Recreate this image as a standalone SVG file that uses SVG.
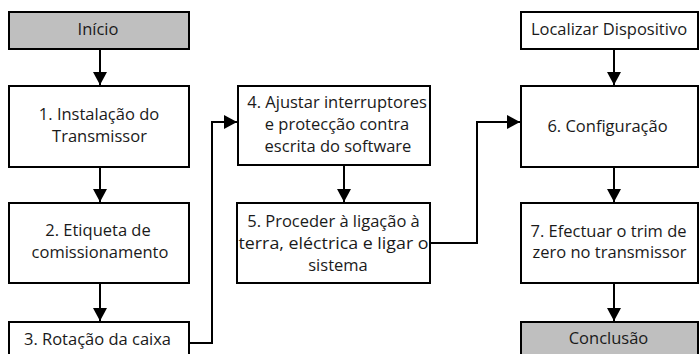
<svg xmlns="http://www.w3.org/2000/svg" width="699" height="354" viewBox="0 0 699 354">
<style>
.b{fill:#fff;stroke:#000;stroke-width:2}
.g{fill:#bfbfbf;stroke:#000;stroke-width:2}
text{font-family:"Open Sans","Liberation Sans",sans-serif;font-size:16.5px;fill:#1a1a1a;text-anchor:middle}
.c{fill:none;stroke:#000;stroke-width:2}
</style>
<defs>
<marker id="ah" viewBox="0 0 14 14" refX="13" refY="7" markerWidth="14" markerHeight="14" markerUnits="userSpaceOnUse" orient="auto">
<path d="M0,0L13,7L0,14z" fill="#000"/>
</marker>
</defs>
<g id="connectors">
<path class="c" d="M100,49V85" marker-end="url(#ah)"/>
<path class="c" d="M100,167V202" marker-end="url(#ah)"/>
<path class="c" d="M100,283V321" marker-end="url(#ah)"/>
<path class="c" d="M189,343H212V122H237" marker-end="url(#ah)"/>
<path class="c" d="M344,165V202" marker-end="url(#ah)"/>
<path class="c" d="M430,243H477V122H520" marker-end="url(#ah)"/>
<path class="c" d="M614,49V85" marker-end="url(#ah)"/>
<path class="c" d="M614,167V202" marker-end="url(#ah)"/>
<path class="c" d="M614,283V321" marker-end="url(#ah)"/>
</g>
<g id="inicio"><rect class="g" x="9" y="12" width="180" height="37"/><text x="98" y="35">Início</text></g>
<g id="n1"><rect class="b" x="9" y="86" width="180" height="81"/><text x="99" y="120">1. Instalação do</text><text x="99.5" y="142">Transmissor</text></g>
<g id="n2"><rect class="b" x="9" y="203" width="180" height="80"/><text x="98" y="236">2. Etiqueta de</text><text x="100" y="258">comissionamento</text></g>
<g id="n3"><rect class="b" x="9" y="322" width="180" height="40"/><text x="97.5" y="345">3. Rotação da caixa</text></g>
<g id="n4"><rect class="b" x="238" y="86" width="192" height="79"/><text x="337" y="108">4. Ajustar interruptores</text><text x="337" y="130">e protecção contra</text><text x="338" y="152">escrita do software</text></g>
<g id="n5"><rect class="b" x="237" y="203" width="193" height="80"/><text x="333.5" y="227">5. Proceder à ligação à</text><text x="333.5" y="249" textLength="190" lengthAdjust="spacingAndGlyphs">terra, eléctrica e ligar o</text><text x="338" y="271">sistema</text></g>
<g id="loc"><rect class="b" x="521" y="12" width="177" height="37"/><text x="609" y="35">Localizar Dispositivo</text></g>
<g id="n6"><rect class="b" x="521" y="86" width="177" height="81"/><text x="607.5" y="132">6. Configuração</text></g>
<g id="n7"><rect class="b" x="521" y="203" width="177" height="80"/><text x="608.5" y="237">7. Efectuar o trim de</text><text x="609.5" y="258">zero no transmissor</text></g>
<g id="fim"><rect class="g" x="521" y="322" width="177" height="40"/><text x="608.5" y="344">Conclusão</text></g>
</svg>
